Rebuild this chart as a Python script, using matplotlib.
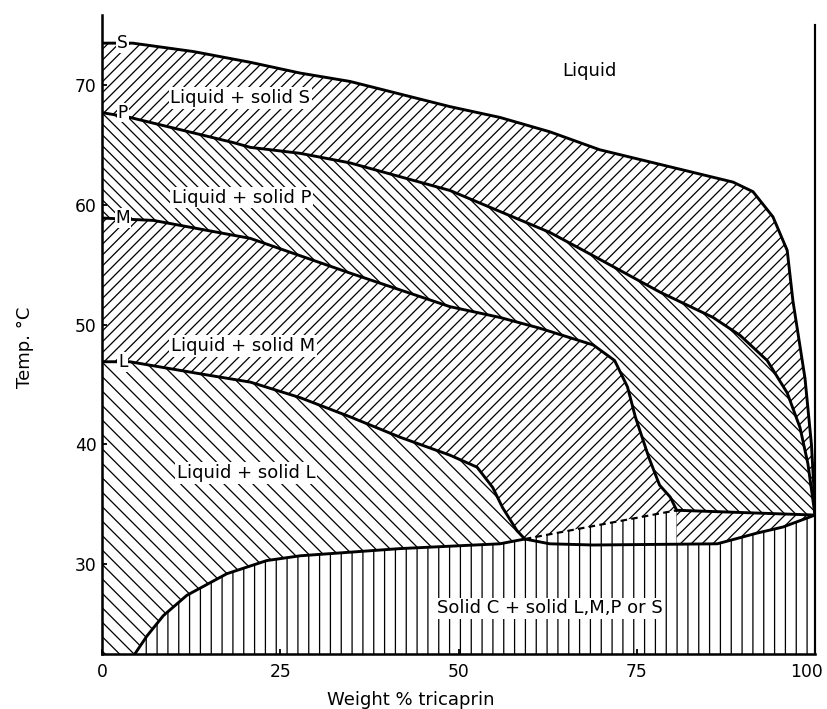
import numpy as np
import matplotlib
matplotlib.use("Agg")
import matplotlib.pyplot as plt
import matplotlib.transforms as mtransforms

plt.rcParams['hatch.linewidth'] = 0.7
plt.rcParams['font.family'] = ['DejaVu Sans']

# liquidus curves (weight % tricaprin, temp C)
s_x = [0, 4.3, 12.8, 20.8, 27.8, 34.8, 48.8, 55.8, 62.8, 69.8, 88.5, 91.3, 94.1, 96.1, 96.9, 98.6, 99.5, 99.8, 100]
s_y = [73.5, 73.5, 72.8, 71.9, 71.0, 70.3, 68.2, 67.3, 66.1, 64.6, 61.9, 61.1, 59.0, 56.2, 52.0, 45.5, 40.0, 36.8, 34.1]

p_x = [0, 3.9, 18.4, 20.8, 27.8, 34.8, 48.8, 62.8, 67.5, 78.3, 85.7, 89.5, 93.3, 96.1, 97.9, 99.0, 100]
p_y = [67.7, 67.3, 65.2, 64.8, 64.3, 63.5, 61.2, 57.7, 56.2, 52.7, 50.6, 49.1, 47.0, 44.3, 41.4, 38.4, 34.1]

m_x = [0, 7.2, 20.8, 34.8, 48.8, 55.8, 61.4, 68.9, 71.9, 73.7, 74.8, 76.7, 78.2, 79.7, 80.6]
m_y = [58.9, 58.7, 57.2, 54.3, 51.5, 50.6, 49.7, 48.3, 47.0, 44.8, 42.3, 38.9, 36.6, 35.6, 34.5]

l_x = [0, 3.9, 13.7, 20.8, 27.8, 34.8, 41.8, 48.8, 52.6, 54.8, 56.2, 58.2, 59.3]
l_y = [46.9, 46.9, 45.9, 45.2, 43.9, 42.3, 40.6, 39.1, 38.1, 36.4, 34.7, 32.8, 32.1]

# solidus of solid C
sol_x = [4.6, 6.3, 8.6, 11.9, 17.5, 23.1, 27.8, 41.8, 55.8, 59.3, 62.8, 68.9, 86.3, 91.9, 95.5, 100]
sol_y = [22.5, 24.0, 25.7, 27.4, 29.2, 30.3, 30.7, 31.3, 31.7, 32.1, 31.7, 31.6, 31.7, 32.6, 33.1, 34.1]

# dashed line and the flat line at the tricaprin end
dash_x = [59.3, 80.6]
dash_y = [32.1, 34.5]
strip_x = [80.6, 100]
strip_y = [34.5, 34.1]

YMIN, YMAX = 22.5, 75.85

fig = plt.figure(figsize=(827 / 130, 709 / 130), dpi=130)
ax = fig.add_axes([102 / 827, 55 / 709, 713 / 827, 639 / 709])


def region(xs, ys, hatch):
    ax.fill(xs, ys, facecolor='white', edgecolor='black', linewidth=0, hatch=hatch, zorder=1)


# Liquid + solid S
region(s_x + p_x[::-1], s_y + p_y[::-1], '////')
# Liquid + solid P
region(p_x + strip_x[::-1] + m_x[::-1], p_y + strip_y[::-1] + m_y[::-1], '\\\\\\\\')
# Liquid + solid M
region(m_x + dash_x[::-1] + l_x[::-1], m_y + dash_y[::-1] + l_y[::-1], '////')
# Liquid + solid L
k = sol_x.index(59.3)
region(l_x + sol_x[:k + 1][::-1] + [0], l_y + sol_y[:k + 1][::-1] + [YMIN], '\\\\\\')
# Solid C + solid ...
region(sol_x[:k + 1] + [dash_x[1]] + strip_x + [100],
       sol_y[:k + 1] + [dash_y[1]] + strip_y + [YMIN], '||')
# narrow strip near tricaprin end
right = [i for i in range(len(sol_x)) if sol_x[i] > strip_x[0]]
x0 = strip_x[0]
y0 = float(np.interp(x0, sol_x, sol_y))
region(strip_x + [sol_x[i] for i in right][::-1] + [x0],
       strip_y + [sol_y[i] for i in right][::-1] + [y0], '////')

for xs, ys in [(s_x, s_y), (p_x, p_y), (m_x, m_y), (l_x, l_y), (sol_x, sol_y), (strip_x, strip_y)]:
    ax.plot(xs, ys, color='black', lw=1.6, zorder=3, solid_joinstyle='round')
ax.plot(dash_x, dash_y, color='black', lw=1.2, ls=(0, (3, 2)), zorder=3)

# right boundary at 100 %
ax.plot([100, 100], [YMIN, 75.0], color='black', lw=1.2, zorder=3, clip_on=False)

for name, y in [('S', s_y[0]), ('P', p_y[0]), ('M', m_y[0]), ('L', l_y[0])]:
    ax.text(2.9, y, name, fontsize=9.5, ha='center', va='center', zorder=4,
            bbox=dict(facecolor='white', edgecolor='none', pad=0.5))

lab = dict(fontsize=10, ha='center', va='center', zorder=4)
box = dict(facecolor='white', edgecolor='none', pad=1)
ax.text(19.4, 68.9, 'Liquid + solid S', bbox=box, **lab)
ax.text(19.6, 60.6, 'Liquid + solid P', bbox=box, **lab)
ax.text(19.8, 48.2, 'Liquid + solid M', bbox=box, **lab)
ax.text(20.2, 37.6, 'Liquid + solid L', bbox=box, **lab)
ax.text(68.3, 71.2, 'Liquid', **lab)
ax.text(62.8, 26.3, 'Solid C + solid L,M,P or S', bbox=box, **lab)

ax.set_xlim(0, 100)
ax.set_ylim(YMIN, YMAX)
ax.set_xticks([0, 25, 50, 75, 100])
ax.set_yticks([30, 40, 50, 60, 70])
ax.tick_params(direction='in', length=3, width=1, labelsize=9.5)
ax.tick_params(axis='x', pad=5)
ax.tick_params(axis='y', pad=3)
for side in ['top', 'right']:
    ax.spines[side].set_visible(False)
ax.spines['left'].set_linewidth(1.4)
ax.spines['bottom'].set_linewidth(1.4)

# keep the "100" label inside the picture
last = ax.get_xticklabels()[-1]
last.set_transform(last.get_transform() + mtransforms.ScaledTranslation(-9 / 130, 0, fig.dpi_scale_trans))

ax.text(-0.108, 0.48, 'Temp. °C', rotation=90, transform=ax.transAxes,
        fontsize=10, ha='center', va='center')
ax.text(0.433, -0.072, 'Weight % tricaprin', transform=ax.transAxes,
        fontsize=10, ha='center', va='center')

fig.savefig('out.png', dpi=130)
